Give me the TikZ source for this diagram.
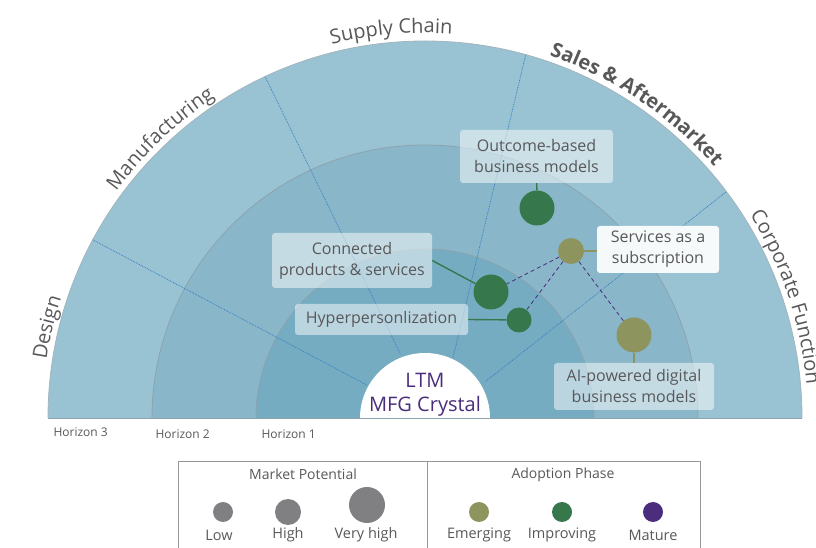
\documentclass[tikz,border=0pt]{standalone}
\usepackage{fontspec}
\setmainfont{Open Sans}
\usetikzlibrary{decorations.text}

\definecolor{ringout}{RGB}{153,194,210}
\definecolor{ringmid}{RGB}{137,183,201}
\definecolor{ringin}{RGB}{117,172,194}
\definecolor{ringline}{RGB}{140,163,173}
\definecolor{divblue}{RGB}{48,122,192}
\definecolor{bubgreen}{RGB}{54,120,76}
\definecolor{bubolive}{RGB}{142,148,94}
\definecolor{bubpurple}{RGB}{74,45,125}
\definecolor{dotgray}{RGB}{128,128,131}
\definecolor{txtgray}{RGB}{88,88,90}
\definecolor{legline}{RGB}{150,150,150}

\newcommand{\sectorfont}{\fontsize{20}{20}\selectfont\color{txtgray}}

\begin{document}
\begin{tikzpicture}[x=1pt, y=1pt,
    divider/.style={densely dotted, line width=0.75pt, draw=divblue},
    ringedge/.style={draw=ringline, line width=0.8pt},
    itembox/.style={fill=white, fill opacity=0.5, text opacity=1, text=txtgray, rounded corners=3pt,
        align=center, inner sep=0pt, font=\fontsize{16}{21}\selectfont},
    bubble/.style={circle, inner sep=0pt, minimum size=#1},
    link/.style={line width=1.4pt},
    phase/.style={dashed, dash pattern=on 4pt off 3pt, line width=0.8pt, draw=bubpurple},
    legtext/.style={text=txtgray, font=\fontsize{14.5}{14.5}\selectfont},
    horizon/.style={text=txtgray, anchor=west, font=\fontsize{12}{12}\selectfont}]
\useasboundingbox (0,0) rectangle (816,548);
\coordinate (C) at (425,130);

% rings
\fill[ringout] (48,130) arc[start angle=180, end angle=0, radius=377] -- cycle;
\draw[ringedge, draw=ringline!80] (48,130) arc[start angle=180, end angle=0, radius=377];
\fill[ringmid] (152,130) arc[start angle=180, end angle=0, radius=273] -- cycle;
\draw[ringedge] (152,130) arc[start angle=180, end angle=0, radius=273];
\fill[ringin] (256,130) arc[start angle=180, end angle=0, radius=169] -- cycle;
\draw[ringedge] (256,130) arc[start angle=180, end angle=0, radius=169];
\draw[ringedge] (48,130) -- (802,130);

% sector dividers
\draw[divider] ([shift={(151.8:377)}]C) -- ([shift={(150.4:66)}]C);
\draw[divider] ([shift={(115.1:377)}]C) -- ([shift={(111:69)}]C);
\draw[divider] ([shift={(74.5:377)}]C) -- ([shift={(65:66)}]C);
\draw[divider] ([shift={(36.9:376)}]C) -- ([shift={(31:70)}]C);

% centre
\fill[white] (360,130) arc[start angle=180, end angle=0, radius=65] -- cycle;
\node (crystal) at (425,153) [align=center, text=bubpurple, font=\fontsize{20}{24}\selectfont] {LTM\\MFG Crystal};

% sector names
\path[decorate, decoration={text along path, text align=center, text={|\sectorfont|Design}}]
    ([shift={(181:383)}]C) arc[start angle=181, end angle=152, radius=383];
\path[decorate, decoration={text along path, text align=center, text={|\sectorfont|Manufacturing}}]
    ([shift={(154:383)}]C) arc[start angle=154, end angle=113, radius=383];
\path[decorate, decoration={text along path, text align=center, text={|\sectorfont|Supply Chain}}]
    ([shift={(116:385)}]C) arc[start angle=116, end angle=74, radius=385];
\path[decorate, decoration={text along path, text align=center, text={|\sectorfont\bfseries|Sales {\&} Aftermarket}}]
    ([shift={(84:383)}]C) arc[start angle=84, end angle=28, radius=383];
\path[decorate, decoration={text along path, text align=center, text={|\sectorfont|Corporate Function}}]
    ([shift={(40:383)}]C) arc[start angle=40, end angle=-3, radius=383];

% horizons
\node[horizon] (h3) at (50,116) {Horizon 3};
\node[horizon] (h2) at (152,114) {Horizon 2};
\node[horizon] (h1) at (258,114) {Horizon 1};

% bubbles
\node[bubble=35, fill=bubgreen] (outbub) at (537,340) {};
\node[bubble=26, fill=bubolive] (srvbub) at (571,297) {};
\node[bubble=35, fill=bubgreen] (conbub) at (491,256) {};
\node[bubble=25, fill=bubgreen] (hypbub) at (519,228) {};
\node[bubble=35, fill=bubolive] (aibub) at (634,213) {};

% labels
\node[itembox, minimum width=153, minimum height=53] (outbox) at (536.5,391.5) {Outcome-based\\business models};
\node[itembox, fill opacity=0.92, minimum width=122, minimum height=47] (srvbox) at (658,298.5) {Services as a\\subscription};
\node[itembox, minimum width=160, minimum height=55] (conbox) at (352,287.5) {Connected\\products \& services};
\node[itembox, minimum width=173, minimum height=31] (hypbox) at (381.5,228.5) {Hyperpersonlization};
\node[itembox, minimum width=160, minimum height=47] (aibox) at (634,161.5) {AI-powered digital\\business models};

% links
\draw[link, bubgreen] (outbox) -- (outbub);
\draw[link, bubolive] (srvbub) -- (srvbub -| srvbox.west);
\draw[link, bubgreen] (conbox.east) -- (conbub);
\draw[link, bubgreen] (hypbox.east) -- (hypbub);
\draw[link, bubolive] (aibub) -- (aibox);
\draw[phase] (srvbub) -- (conbub);
\draw[phase] (srvbub) -- (hypbub);
\draw[phase] (srvbub) -- (aibub);

% legend
\draw[legline, line width=1pt] (178,-5) -- (178,86) -- (700,86) -- (700,-5);
\draw[legline, line width=1pt] (427,86) -- (427,-5);
\node[legtext, font=\fontsize{14}{14}\selectfont] (mptitle) at (303,74) {Market Potential};
\node[legtext, font=\fontsize{14}{14}\selectfont] (aptitle) at (563,73) {Adoption Phase};
\node[bubble=20, fill=dotgray] (lowdot) at (223,36) {};
\node[bubble=26, fill=dotgray] (highdot) at (288,36) {};
\node[bubble=36, fill=dotgray] (vhighdot) at (367,43) {};
\node[bubble=20, fill=bubolive] (emdot) at (479,36) {};
\node[bubble=20, fill=bubgreen] (impdot) at (562,36) {};
\node[bubble=20, fill=bubpurple] (matdot) at (653,36) {};
\node[legtext] (lowtxt) at (219,13) {Low};
\node[legtext] (hightxt) at (288,13) {High};
\node[legtext] (vhightxt) at (366,13) {Very high};
\node[legtext] (emtxt) at (479,13) {Emerging};
\node[legtext] (imptxt) at (562,13) {Improving};
\node[legtext] (mattxt) at (653,13) {Mature};
\end{tikzpicture}
\end{document}
